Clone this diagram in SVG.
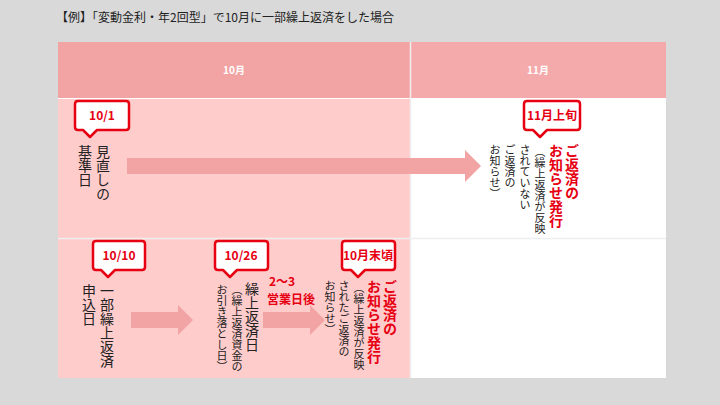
<svg xmlns="http://www.w3.org/2000/svg" width="720" height="405" viewBox="0 0 720 405">
<style>
text{font-family:"Noto Sans CJK JP","Noto Sans",sans-serif;}
.v{writing-mode:vertical-rl;fill:#222;font-size:14px;}
.s{font-size:11px;}
.r{fill:#e60012;font-weight:bold;}
.cb{fill:#fff;stroke:#e60012;stroke-width:2.5;stroke-linejoin:round;}
.cl{fill:#e60012;font-weight:bold;font-size:12px;text-anchor:middle;}
.ar{fill:#f2a3a3;}
</style>
<rect width="720" height="405" fill="#d9d9d9"/>
<text x="56" y="22" font-size="12" fill="#222">【例】「変動金利・年2回型」で10月に一部繰上返済をした場合</text>
<g id="table">
<rect x="58" y="42" width="608" height="336" fill="#fff"/>
<rect x="58" y="42" width="352" height="56" fill="#f2a3a3"/>
<rect x="411" y="42" width="255" height="56" fill="#f4aaaa"/>
<rect x="58" y="99" width="352" height="279" fill="#ffcccc"/>
<line x1="410.5" y1="42" x2="410.5" y2="378" stroke="#eee" stroke-width="1.5"/>
<line x1="58" y1="238.5" x2="666" y2="238.5" stroke="#eee" stroke-width="1.5"/>
<text x="234" y="74" font-size="10" fill="#fff" font-weight="bold" text-anchor="middle">10月</text>
<text x="538" y="74" font-size="10" fill="#fff" font-weight="bold" text-anchor="middle">11月</text>
</g>
<g id="connectors">
<path class="ar" d="M127 158 H465 V150 L481 166 L465 182 V174 H127 Z"/>
<path class="ar" d="M131 312 H178 V305 L193 320 L178 335 V328 H131 Z"/>
<path class="ar" d="M263 312 H310 V305 L325 320 L310 335 V328 H263 Z"/>
</g>
<g id="n-1001">
<path class="cb" d="M78 101 H126 Q129 101 129 104 V127 Q129 130 126 130 H97 L90 137 L83 130 H78 Q75 130 75 127 V104 Q75 101 78 101 Z"/>
<text class="cl" x="102" y="120">10/1</text>
<text class="v" x="103" y="145">見直しの</text>
<text class="v" x="85" y="145">基準日</text>
</g>
<g id="n-nov">
<path class="cb" d="M527 101 H577 Q580 101 580 104 V127 Q580 130 577 130 H547 L540 137 L533 130 H527 Q524 130 524 127 V104 Q524 101 527 101 Z"/>
<text class="cl" x="552" y="120" font-size="11">11月上旬</text>
<text class="v r" x="572" y="144" font-size="13">ご返済の</text>
<text class="v r" x="556" y="144" font-size="13">お知らせ発行</text>
<text class="v s" x="540" y="146">（繰上返済が反映</text>
<text class="v s" x="525" y="144">されていない</text>
<text class="v s" x="510" y="144">ご返済の</text>
<text class="v s" x="495" y="144">お知らせ）</text>
</g>
<g id="n-1010">
<path class="cb" d="M96 241 H142 Q145 241 145 244 V267 Q145 270 142 270 H115 L108 277 L101 270 H96 Q93 270 93 267 V244 Q93 241 96 241 Z"/>
<text class="cl" x="119" y="260">10/10</text>
<text class="v" x="107" y="284">一部繰上返済</text>
<text class="v" x="89" y="284">申込日</text>
</g>
<g id="n-1026">
<path class="cb" d="M218 241 H265 Q268 241 268 244 V267 Q268 270 265 270 H237 L230 277 L223 270 H218 Q215 270 215 267 V244 Q215 241 218 241 Z"/>
<text class="cl" x="241" y="260">10/26</text>
<text class="v" x="252" y="282">繰上返済日</text>
<text class="v s" x="237" y="284">（繰上返済資金の</text>
<text class="v s" x="222" y="284">お引き落とし日）</text>
<text class="r" x="269" y="286" font-size="12">2～3</text>
<text class="r" x="267" y="304" font-size="12">営業日後</text>
</g>
<g id="n-oct-end">
<path class="cb" d="M345 241 H392 Q395 241 395 244 V267 Q395 270 392 270 H365 L358 277 L351 270 H345 Q342 270 342 267 V244 Q342 241 345 241 Z"/>
<text class="cl" x="368" y="260" font-size="11">10月末頃</text>
<text class="v r" x="390" y="280" font-size="13">ご返済の</text>
<text class="v r" x="374" y="280" font-size="13">お知らせ発行</text>
<text class="v s" x="359" y="282">（繰上返済が反映</text>
<text class="v s" x="344" y="280">されたご返済の</text>
<text class="v s" x="330" y="280">お知らせ）</text>
</g>
</svg>
